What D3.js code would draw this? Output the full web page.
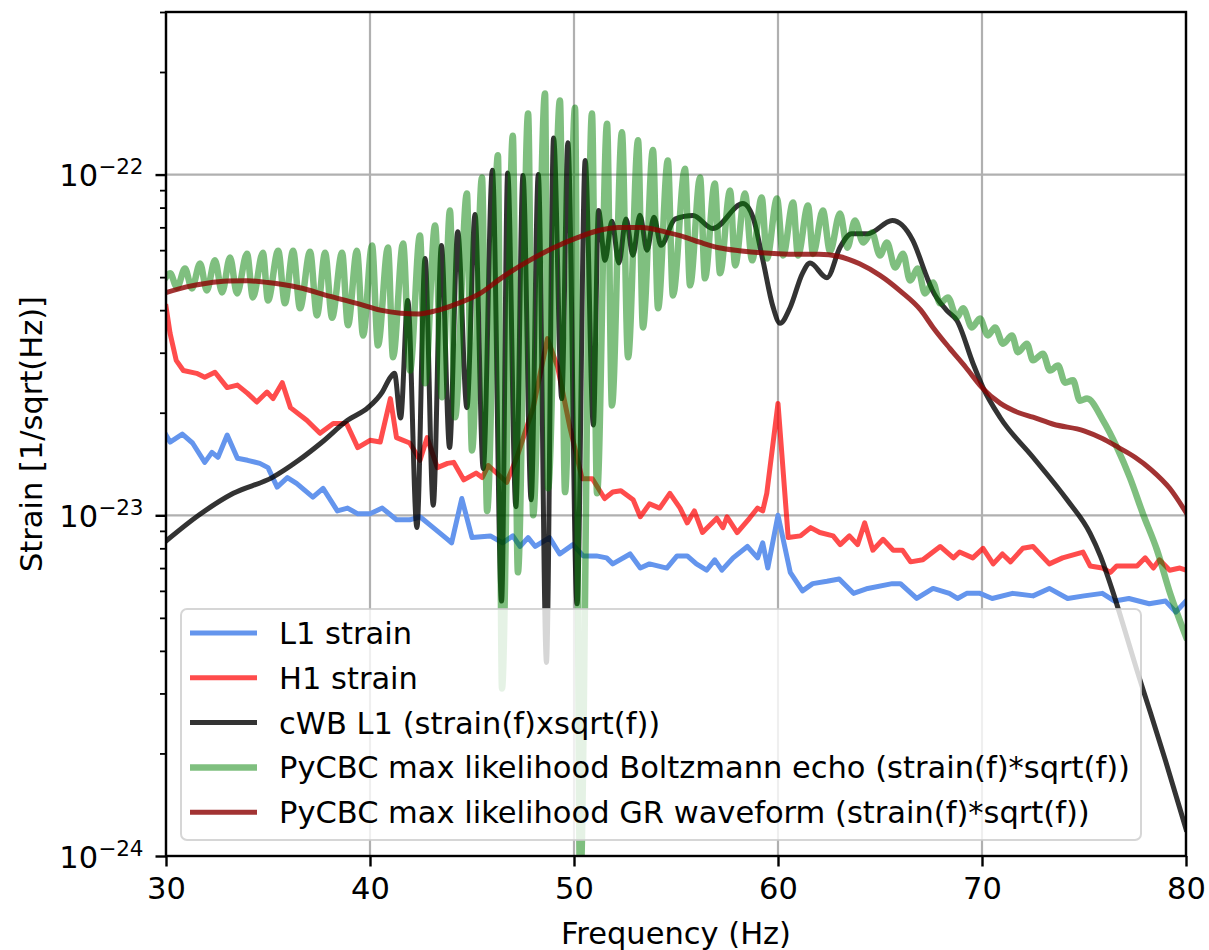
<!DOCTYPE html>
<html>
<head>
<meta charset="utf-8">
<script src="https://cdn.jsdelivr.net/npm/d3@7"></script>
<style>
  body { margin: 0; background: #fff; }
  svg text { font-family: "DejaVu Sans", sans-serif; fill: #000; }
</style>
</head>
<body>
<svg id="chart" width="1209" height="950"></svg>
<script>
// values are strain in units of 1e-23 [1/sqrt(Hz)], paired with frequency in Hz
const UNIT = 1e-23;

const l1Strain = [[30.0,1.72],[30.2,1.64],[30.8,1.73],[31.3,1.63],[31.9,1.43],[32.25,1.53],[32.55,1.48],[33.0,1.72],[33.5,1.47],[34.0,1.45],[34.6,1.42],[35.0,1.38],[35.45,1.21],[35.95,1.29],[36.4,1.24],[37.2,1.13],[37.7,1.20],[38.4,1.03],[38.9,1.05],[39.4,1.01],[40.0,1.01],[40.6,1.05],[41.3,0.97],[41.95,0.97],[42.45,0.99],[43.1,0.92],[43.8,0.85],[44.0,0.83],[44.5,1.12],[45.0,0.86],[45.9,0.87],[46.5,0.83],[47.0,0.87],[47.35,0.81],[47.75,0.86],[48.1,0.81],[48.8,0.86],[49.3,0.77],[49.95,0.82],[50.45,0.76],[51.1,0.76],[51.6,0.75],[51.9,0.72],[52.75,0.77],[53.25,0.70],[53.7,0.72],[54.55,0.70],[55.05,0.76],[55.55,0.76],[56.0,0.72],[56.5,0.69],[56.9,0.74],[57.25,0.69],[57.8,0.75],[58.5,0.81],[59.0,0.75],[59.25,0.83],[59.5,0.70],[60.0,1.00],[60.6,0.68],[61.2,0.60],[61.7,0.63],[62.4,0.64],[63.0,0.65],[63.7,0.59],[64.4,0.61],[65.6,0.63],[66.0,0.63],[66.8,0.57],[67.6,0.61],[68.4,0.59],[68.8,0.57],[69.25,0.59],[69.9,0.59],[70.5,0.57],[71.5,0.59],[72.5,0.58],[73.3,0.61],[74.2,0.57],[75.0,0.58],[75.9,0.59],[76.5,0.56],[77.2,0.57],[78.2,0.55],[79.0,0.56],[79.5,0.52],[80.0,0.56]];

const h1Strain = [[30.0,4.1],[30.2,3.42],[30.5,2.85],[30.85,2.66],[31.5,2.61],[31.9,2.54],[32.4,2.63],[33.0,2.37],[33.5,2.41],[34.0,2.28],[34.45,2.15],[34.95,2.30],[35.25,2.20],[35.7,2.45],[36.1,2.07],[36.9,1.90],[37.55,1.74],[38.2,1.86],[38.85,1.86],[39.4,1.58],[40.0,1.66],[40.5,1.64],[41.0,2.20],[41.3,1.69],[41.95,1.63],[42.45,1.45],[42.8,1.69],[43.3,1.38],[43.8,1.42],[44.1,1.43],[44.6,1.27],[45.2,1.33],[45.5,1.29],[45.8,1.40],[46.7,1.25],[47.2,1.48],[48.0,2.07],[48.7,3.30],[49.2,2.72],[49.8,1.81],[50.4,1.28],[50.9,1.28],[51.5,1.12],[51.9,1.17],[52.3,1.18],[52.9,1.11],[53.25,0.99],[53.7,1.08],[54.2,1.05],[54.7,1.16],[55.2,1.05],[55.55,0.95],[55.9,1.03],[56.3,0.89],[57.0,0.98],[57.3,0.92],[57.5,0.99],[58.0,0.89],[58.6,0.98],[59.0,1.05],[59.25,1.03],[59.45,1.16],[60.0,2.13],[60.5,0.86],[61.1,0.87],[61.6,0.92],[62.05,0.89],[62.7,0.87],[63.05,0.82],[63.5,0.87],[63.9,0.82],[64.25,0.95],[64.65,0.79],[65.15,0.85],[65.65,0.79],[66.1,0.79],[66.5,0.73],[67.1,0.74],[67.95,0.81],[68.6,0.75],[68.9,0.78],[69.55,0.75],[70.05,0.80],[70.55,0.72],[71.0,0.77],[71.4,0.73],[72.0,0.80],[72.5,0.81],[73.3,0.72],[73.95,0.75],[74.95,0.78],[75.3,0.71],[75.9,0.70],[76.3,0.68],[76.6,0.71],[77.6,0.71],[78.0,0.75],[78.4,0.70],[78.7,0.74],[79.2,0.69],[79.7,0.70],[80.0,0.69]];

const cwbL1 = [[30.0,0.84],[31.6,1.0],[33.3,1.16],[35.2,1.29],[36.5,1.45],[37.6,1.63],[38.9,1.90],[39.9,2.07],[40.6,2.30],[41.0,2.54],[41.2,2.61],[41.5,1.93],[41.85,4.27],[42.3,0.92],[42.7,5.67],[43.1,1.07],[43.5,6.19],[43.9,1.58],[44.3,6.8],[44.75,2.07],[45.15,7.63],[45.55,1.37],[46.0,10.3],[46.45,0.56],[46.75,10.1],[47.15,1.06],[47.5,9.93],[47.9,1.11],[48.25,10.0],[48.65,0.37],[49.0,12.8],[49.4,2.2],[49.7,12.4],[50.15,0.55],[50.55,11.0],[50.95,1.84],[51.2,7.85],[51.52,5.6],[51.86,7.3],[52.2,5.5],[52.55,7.4],[52.89,5.8],[53.23,7.6],[53.58,6.0],[53.92,7.5],[54.26,6.2],[54.95,7.4],[55.83,7.58],[56.8,6.94],[58.28,8.22],[58.77,7.5],[59.26,5.6],[59.75,4.1],[60.1,3.66],[60.6,4.08],[61.2,5.13],[61.57,5.5],[62.4,4.98],[63.04,6.11],[63.6,6.7],[64.4,6.7],[65.6,7.33],[66.6,6.42],[67.3,5.0],[67.55,4.6],[68.28,3.99],[68.77,3.73],[69.56,2.79],[70.05,2.37],[70.88,1.94],[72.5,1.48],[74.17,1.11],[75.3,0.885],[75.8,0.76],[76.4,0.60],[77.0,0.46],[77.6,0.35],[78.2,0.27],[79.0,0.19],[80.0,0.12]];

const echoFit = [[30.0,5.0],[30.2,5.13],[30.54,4.66],[30.93,5.30],[31.27,4.63],[31.67,5.48],[32.0,4.57],[32.4,5.60],[32.75,4.51],[33.14,5.71],[33.48,4.48],[33.97,5.86],[34.26,4.36],[34.75,5.90],[35.0,4.27],[35.5,5.98],[35.83,4.19],[36.23,5.98],[36.57,4.05],[37.06,5.94],[37.4,3.86],[37.8,5.90],[38.14,3.80],[38.63,5.90],[38.92,3.61],[39.36,5.98],[39.66,3.37],[40.1,6.19],[40.39,3.15],[40.88,6.11],[41.13,2.91],[41.62,6.28],[41.96,2.66],[42.45,6.63],[42.7,2.44],[43.19,7.09],[43.53,2.22],[43.92,7.84],[44.17,1.94],[44.75,8.80],[45.0,1.55],[45.49,9.80],[45.74,1.03],[46.27,11.4],[46.47,0.31],[47.0,13.0],[47.25,0.68],[47.75,15.1],[48.0,1.0],[48.58,17.3],[48.73,1.2],[49.31,16.5],[49.56,1.17],[50.05,15.7],[50.3,0.08],[50.88,15.1],[51.13,1.16],[51.62,14.1],[51.86,2.10],[52.35,13.3],[52.65,2.91],[53.14,12.6],[53.38,3.56],[53.87,11.8],[54.12,4.05],[54.6,11.0],[54.85,4.42],[55.44,10.4],[55.69,4.73],[56.18,9.80],[56.42,4.96],[56.9,9.41],[57.16,5.13],[57.65,8.98],[57.9,5.41],[58.38,8.80],[58.73,5.60],[59.2,8.57],[59.46,5.67],[59.95,8.51],[60.25,5.79],[60.74,8.28],[60.98,5.79],[61.47,8.11],[61.72,5.85],[62.2,7.84],[62.55,5.95],[63.04,7.69],[63.4,6.1],[63.77,7.33],[64.17,6.32],[64.6,6.76],[65.0,5.79],[65.34,6.32],[65.74,5.34],[66.13,5.86],[66.47,4.89],[66.86,5.30],[67.2,4.48],[67.6,4.82],[67.94,4.19],[68.33,4.36],[68.77,3.81],[69.07,4.05],[69.51,3.56],[69.9,3.78],[70.29,3.37],[70.64,3.56],[71.03,3.19],[71.47,3.37],[71.76,3.01],[72.2,3.19],[72.5,2.85],[72.99,2.98],[73.33,2.66],[73.73,2.75],[74.07,2.45],[74.46,2.49],[74.8,2.17],[75.15,2.20],[75.93,1.90],[76.62,1.58],[77.25,1.29],[77.89,1.01],[78.58,0.79],[79.22,0.59],[80.0,0.44]];

const grFit = [[30.0,4.50],[31.0,4.68],[32.0,4.80],[33.0,4.87],[34.0,4.88],[35.0,4.82],[36.5,4.66],[38.0,4.40],[39.4,4.18],[40.5,4.00],[41.5,3.92],[42.4,3.90],[43.2,3.98],[44.0,4.12],[45.4,4.48],[46.5,5.00],[47.8,5.59],[49.0,6.10],[50.2,6.54],[51.2,6.85],[52.2,6.99],[53.3,6.99],[54.5,6.78],[55.2,6.62],[56.2,6.32],[57.1,6.10],[58.1,5.98],[60.0,5.86],[61.0,5.84],[62.0,5.84],[63.0,5.75],[64.0,5.47],[65.0,5.06],[66.0,4.55],[67.0,4.00],[67.6,3.56],[68.4,3.10],[69.2,2.72],[70.0,2.37],[70.9,2.13],[71.8,2.00],[72.5,1.94],[73.5,1.85],[75.0,1.77],[75.9,1.68],[76.7,1.58],[77.5,1.48],[78.3,1.36],[79.2,1.20],[80.0,1.02]];

const xTicks = [30, 40, 50, 60, 70, 80];
const yMajor = [1e-24, 1e-23, 1e-22];
const yMinor = [2e-24,3e-24,4e-24,5e-24,6e-24,7e-24,8e-24,9e-24,2e-23,3e-23,4e-23,5e-23,6e-23,7e-23,8e-23,9e-23,2e-22,3e-22];

const series = [
  { key: 'l1',   label: 'L1 strain', data: l1Strain, color: '#6495ed', opacity: 1.0, width: 5, curve: d3.curveLinear },
  { key: 'h1',   label: 'H1 strain', data: h1Strain, color: '#ff0000', opacity: 0.7, width: 5, curve: d3.curveLinear },
  { key: 'cwb',  label: 'cWB L1 (strain(f)xsqrt(f))', data: cwbL1, color: '#000000', opacity: 0.8, width: 5, curve: d3.curveMonotoneX },
  { key: 'echo', label: 'PyCBC max likelihood Boltzmann echo (strain(f)*sqrt(f))', data: echoFit, color: '#008000', opacity: 0.5, width: 6.5, curve: d3.curveMonotoneX },
  { key: 'gr',   label: 'PyCBC max likelihood GR waveform (strain(f)*sqrt(f))', data: grFit, color: '#8b0000', opacity: 0.8, width: 5, curve: d3.curveMonotoneX },
];

// ── layout ─────────────────────────────
const plot = { left: 166, right: 1186, top: 12, bottom: 856 };
const FS = 30.5;

const svg = d3.select('#chart');

const x = d3.scaleLinear().domain([30, 80]).range([plot.left, plot.right]);
const y = d3.scaleLog().domain([1e-24, 3e-22]).range([plot.bottom, plot.top]);

svg.append('defs').append('clipPath').attr('id', 'plot-clip')
  .append('rect')
  .attr('x', plot.left).attr('y', plot.top)
  .attr('width', plot.right - plot.left).attr('height', plot.bottom - plot.top);

// grid
const grid = svg.append('g').attr('class', 'grid')
  .attr('stroke', '#b0b0b0').attr('stroke-width', 2.2);
grid.selectAll('line.gx').data(xTicks).join('line').attr('class', 'gx')
  .attr('x1', d => x(d)).attr('x2', d => x(d))
  .attr('y1', plot.top).attr('y2', plot.bottom);
grid.selectAll('line.gy').data(yMajor).join('line').attr('class', 'gy')
  .attr('x1', plot.left).attr('x2', plot.right)
  .attr('y1', d => y(d)).attr('y2', d => y(d));

// lines
const line = d3.line()
  .x(d => x(d[0]))
  .y(d => y(d[1] * UNIT));

const lineG = svg.append('g').attr('clip-path', 'url(#plot-clip)');
series.forEach(s => {
  lineG.append('path')
    .datum(s.data)
    .attr('fill', 'none')
    .attr('stroke', s.color)
    .attr('stroke-opacity', s.opacity)
    .attr('stroke-width', s.width)
    .attr('stroke-linejoin', 'round')
    .attr('stroke-linecap', 'square')
    .attr('d', line.curve(s.curve));
});

// frame
svg.append('rect')
  .attr('x', plot.left).attr('y', plot.top)
  .attr('width', plot.right - plot.left).attr('height', plot.bottom - plot.top)
  .attr('fill', 'none').attr('stroke', '#000').attr('stroke-width', 2.4);

// x axis
const xAxis = svg.append('g')
  .attr('transform', `translate(0,${plot.bottom})`)
  .call(d3.axisBottom(x).tickValues(xTicks).tickSize(10.5).tickPadding(11).tickFormat(d3.format('d')));
xAxis.select('.domain').remove();
xAxis.selectAll('.tick line').attr('stroke-width', 2.4);
xAxis.selectAll('.tick text').attr('font-size', FS).attr('font-family', '"DejaVu Sans", sans-serif');

// y axis major
const yAxis = svg.append('g')
  .attr('transform', `translate(${plot.left},0)`)
  .call(d3.axisLeft(y).tickValues(yMajor).tickSize(10.5).tickPadding(12).tickFormat(() => ''));
yAxis.select('.domain').remove();
yAxis.selectAll('.tick line').attr('stroke-width', 2.4);
yAxis.selectAll('.tick text')
  .attr('font-size', FS).attr('font-family', '"DejaVu Sans", sans-serif')
  .attr('dy', 11)
  .each(function (d) {
    const t = d3.select(this);
    t.append('tspan').text('10');
    t.append('tspan').attr('dy', -12).attr('font-size', 21.5)
      .text('\u2212' + Math.round(-Math.log10(d)));
  });

// y axis minor
const yMinorAxis = svg.append('g')
  .attr('transform', `translate(${plot.left},0)`)
  .call(d3.axisLeft(y).tickValues(yMinor).tickSize(6).tickFormat(() => ''));
yMinorAxis.select('.domain').remove();
yMinorAxis.selectAll('.tick line').attr('stroke-width', 1.8);

// axis labels
svg.append('text')
  .attr('x', (plot.left + plot.right) / 2).attr('y', 944)
  .attr('text-anchor', 'middle').attr('font-size', FS)
  .text('Frequency (Hz)');

svg.append('text')
  .attr('transform', `translate(42,${(plot.top + plot.bottom) / 2}) rotate(-90)`)
  .attr('text-anchor', 'middle').attr('font-size', FS)
  .text('Strain [1/sqrt(Hz)]');

// legend
const legend = svg.append('g').attr('class', 'legend');
legend.append('rect')
  .attr('x', 181).attr('y', 609).attr('width', 960).attr('height', 231)
  .attr('rx', 6).attr('ry', 6)
  .attr('fill', '#fff').attr('fill-opacity', 0.8)
  .attr('stroke', '#cccccc').attr('stroke-opacity', 0.8).attr('stroke-width', 2);

const items = legend.selectAll('g.item').data(series).join('g')
  .attr('class', 'item')
  .attr('transform', (d, i) => `translate(0,${633 + i * 44.8})`);
items.append('line')
  .attr('x1', 190).attr('x2', 257)
  .attr('stroke', d => d.color).attr('stroke-opacity', d => d.opacity)
  .attr('stroke-width', d => d.width);
items.append('text')
  .attr('x', 279).attr('y', 11)
  .attr('font-size', FS)
  .text(d => d.label);
</script>
</body>
</html>
